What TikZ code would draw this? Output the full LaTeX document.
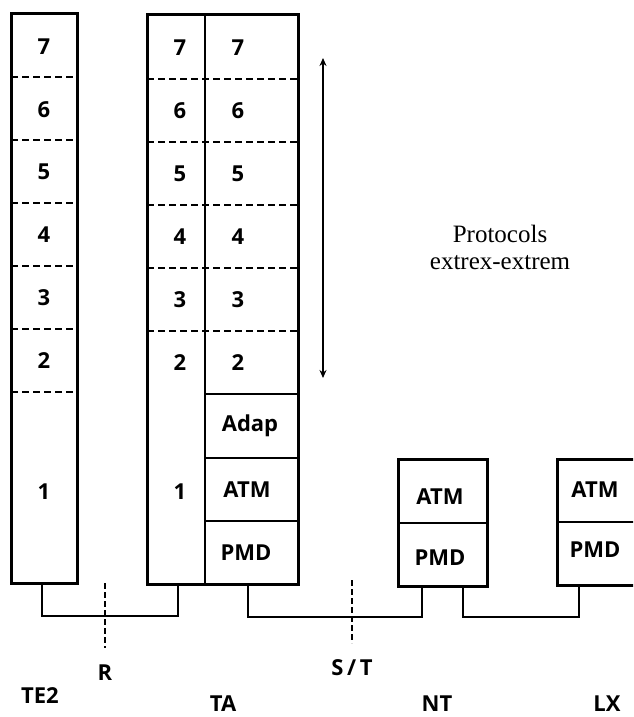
\documentclass[tikz,border=0pt]{standalone}
\usepackage{fontspec}
\setmainfont{Liberation Serif}
\setsansfont{Open Sans}
\usetikzlibrary{arrows.meta}
\begin{document}
\begin{tikzpicture}[x=1pt,y=-1pt,
  box/.style={draw, line width=3pt, rectangle, inner sep=0pt, outer sep=0pt, anchor=north west},
  sepline/.style={line width=2pt, dash pattern=on 7pt off 4pt},
  divline/.style={line width=2.2pt},
  lbl/.style={font=\sffamily\bfseries\fontsize{22}{26}\selectfont, inner sep=0pt},
  wire/.style={line width=2.8pt},
  refline/.style={line width=2.4pt, dash pattern=on 6pt off 3pt},
  serif/.style={font=\rmfamily\fontsize{25}{27}\selectfont, align=center, inner sep=0pt}]
\clip (0,0) rectangle (633,717);
\fill[white] (0,0) rectangle (633,717);
% boxes
\node[box, minimum width=66pt, minimum height=569pt] (te2) at (11,14) {};
\node[box, minimum width=151pt, minimum height=569pt] (ta) at (147,15) {};
\node[box, minimum width=89pt, minimum height=127pt] (nt) at (398,459) {};
\node[box, minimum width=100pt, minimum height=126pt] (lx) at (557,459) {};
% TE2 separators
\foreach \y in {77,140,203,266,329,392} \draw[sepline] (11,\y) -- (77,\y);
% TA separators
\draw[divline] (205,15) -- (205,584);
\foreach \y in {79,142,205,268,331} \draw[sepline] (147,\y) -- (298,\y);
\foreach \y in {394,458,521} \draw[divline] (205,\y) -- (298,\y);
% NT, LX dividers
\draw[divline] (398,523) -- (487,523);
\draw[divline] (557,522) -- (640,522);
% TE2 labels
\foreach \t/\y in {7/47,6/110,5/172,4/235,3/298,2/361,1/492}
  \node[lbl] (te2l\t) at (44,\y) {\t};
% TA labels
\foreach \t/\y in {7/48,6/111,5/174,4/237,3/300,2/363,1/492}
  \node[lbl] (tal\t) at (180,\y) {\t};
\foreach \t/\y in {7/48,6/111,5/174,4/237,3/300,2/363}
  \node[lbl] (tar\t) at (238,\y) {\t};
\node[lbl] (adap) at (250,426) {Adap};
\node[lbl] (taatm) at (247,490) {ATM};
\node[lbl] (tapmd) at (246,553) {PMD};
\node[lbl] (ntatm) at (440,497) {ATM};
\node[lbl] (ntpmd) at (440,558) {PMD};
\node[lbl] (lxatm) at (595,490) {ATM};
\node[lbl] (lxpmd) at (595,550) {PMD};
% arrow and text
\coordinate (atop) at (323,58);
\coordinate (abot) at (323,378);
\draw[line width=1.8pt, {Stealth[length=8pt,width=7pt]}-{Stealth[length=8pt,width=7pt]}] (atop) -- (abot);
\node[serif] (proto) at (500,247) {Protocols\\extrex-extrem};
% ports
\coordinate (te2port) at (42,583);
\coordinate (taportL) at (178,584);
\coordinate (taportR) at (248,584);
\coordinate (ntportL) at (422,586);
\coordinate (ntportR) at (463,586);
\coordinate (lxport) at (579,585);
\draw[wire] (te2port) -- ++(0,33) -| (taportL);
\draw[wire] (taportR) -- ++(0,33) -| (ntportL);
\draw[wire] (ntportR) -- ++(0,31) -| (lxport);
% reference points
\coordinate (rtop) at (105,583);
\coordinate (rbot) at (105,648);
\draw[refline] (rtop) -- (rbot);
\coordinate (sttop) at (352,580);
\coordinate (stbot) at (352,643);
\draw[refline] (sttop) -- (stbot);
\node[lbl] (rl) at (105,673) {R};
\node[lbl] (stl) at (352,668) {S\,/\,T};
\node[lbl] (te2n) at (40,696) {TE2};
\node[lbl] (tan) at (223,704) {TA};
\node[lbl] (ntn) at (437,704) {NT};
\node[lbl] (lxn) at (607,704) {LX};
\end{tikzpicture}
\end{document}
